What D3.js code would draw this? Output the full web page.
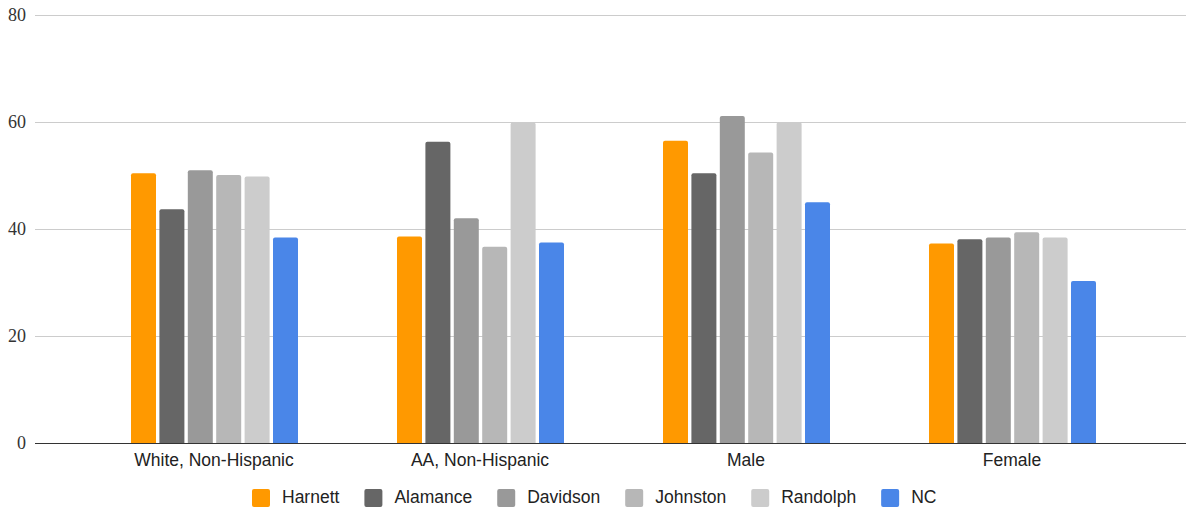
<!DOCTYPE html>
<html><head><meta charset="utf-8">
<script src="https://cdn.jsdelivr.net/npm/d3@7"></script>
<style>body{margin:0;background:#fff}svg{display:block}
.yl{font-family:"Liberation Serif","Times New Roman","DejaVu Serif",serif;font-size:18px;fill:#333}
.cl{font-family:"Liberation Sans",Arial,sans-serif;font-size:17.5px;fill:#222}
.lg{font-family:"Liberation Sans",Arial,sans-serif;font-size:17.5px;fill:#222}
</style>
</head><body>
<svg id="c" width="1186" height="510"></svg>
<script>
const categories = ["White, Non-Hispanic", "AA, Non-Hispanic", "Male", "Female"];
const seriesNames = ["Harnett", "Alamance", "Davidson", "Johnston", "Randolph", "NC"];
const harnett  = [50.4, 38.6, 56.5, 37.3];
const alamance = [43.7, 56.3, 50.4, 38.1];
const davidson = [51.0, 42.0, 61.1, 38.4];
const johnston = [50.1, 36.7, 54.3, 39.4];
const randolph = [49.8, 59.9, 60.0, 38.4];
const nc       = [38.4, 37.5, 45.0, 30.3];
const yTicks = [0, 20, 40, 60, 80];
const colors = ["#ff9900", "#666666", "#999999", "#b7b7b7", "#cccccc", "#4a86e8"];

const seriesValues = [harnett, alamance, davidson, johnston, randolph, nc];
const svg = d3.select("#c");
const y = d3.scaleLinear().domain([0, 80]).range([443, 15]);
const x0 = d3.scaleBand().domain(categories).range([81, 1145]).padding(0);
const x1 = d3.scaleBand().domain(seriesNames).range([50, 217]).paddingInner(0.12).paddingOuter(0);

// gridlines
svg.append("g").selectAll("line").data(yTicks.filter(t => t !== 0)).join("line")
  .attr("x1", 35).attr("x2", 1186)
  .attr("y1", d => Math.round(y(d)) + 0.5).attr("y2", d => Math.round(y(d)) + 0.5)
  .attr("stroke", "#cccccc").attr("stroke-width", 1);

// y labels
svg.append("g").selectAll("text").data(yTicks).join("text")
  .attr("class", "yl")
  .attr("x", 26).attr("y", d => y(d) + 6)
  .attr("text-anchor", "end")
  .text(d => d);

// bars
const groups = svg.append("g").selectAll("g").data(categories).join("g")
  .attr("transform", d => `translate(${x0(d)},0)`);
groups.selectAll("path").data((c, ci) => seriesNames.map((s, si) => ({s, si, v: seriesValues[si][ci]}))).join("path")
  .attr("fill", d => colors[d.si])
  .attr("d", d => {
    const x = x1(d.s), w = x1.bandwidth(), top = y(d.v), bot = y(0), r = 2;
    return `M${x},${bot}V${top + r}Q${x},${top} ${x + r},${top}H${x + w - r}Q${x + w},${top} ${x + w},${top + r}V${bot}Z`;
  });

// baseline
svg.append("line").attr("x1", 35).attr("x2", 1186)
  .attr("y1", y(0) + 0.5).attr("y2", y(0) + 0.5)
  .attr("stroke", "#333333").attr("stroke-width", 1.2);

// category labels
svg.append("g").selectAll("text").data(categories).join("text")
  .attr("class", "cl")
  .attr("x", d => x0(d) + x0.bandwidth() / 2).attr("y", 466)
  .attr("text-anchor", "middle")
  .text(d => d);

// legend
const legG = svg.append("g");
let lx = 252;
seriesNames.forEach((name, i) => {
  const g = legG.append("g").attr("transform", `translate(${lx},489)`);
  g.append("rect").attr("width", 18).attr("height", 18).attr("rx", 2).attr("fill", colors[i]);
  const t = g.append("text").attr("class", "lg").attr("x", 30).attr("y", 14).text(name);
  const w = t.node().getComputedTextLength();
  lx += 30 + w + 25;
});
</script>
</body></html>
